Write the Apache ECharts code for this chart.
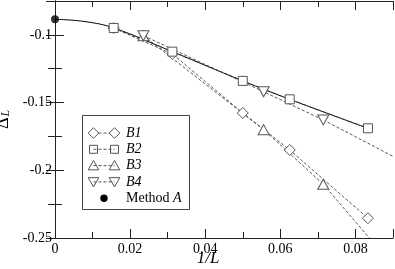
<!DOCTYPE html>
<html><head><meta charset="utf-8">
<script src="https://cdn.jsdelivr.net/npm/echarts@6/dist/echarts.min.js"></script>
<style>html,body{margin:0;padding:0;background:#fff}#c{width:395px;height:269px}</style>
</head><body><div id="c"></div>
<script>
// x values = 1/L
var xB12 = [1/64, 1/32, 1/20, 1/16, 1/12];
var yB1 = [-0.0950, -0.1141, -0.1577, -0.1850, -0.2354];
var yB2 = [-0.0949, -0.1124, -0.1340, -0.1476, -0.1690];
var xB34 = [1/42.5, 1/18, 1/14];
var yB3 = [-0.1006, -0.1700, -0.2103];
var yB4 = [-0.1006, -0.1420, -0.1628];
var methodA = [[0, -0.0885]];
// fitted / extrapolated curves
var fitB2 = [[0, -0.0885], [0.008, -0.0902], [1/64, -0.0949], [1/32, -0.1124], [1/20, -0.1340], [1/16, -0.1476], [1/12, -0.1690]];
var extB3 = [[1/14, -0.2103], [0.0837, -0.2500]];
var extB4 = [[1/14, -0.1628], [0.0900, -0.1897]];
var xTicks = {min: 0, max: 0.09, interval: 0.02};
var yTicks = {min: -0.25, max: -0.075, interval: 0.05};
var legendNames = ['B1', 'B2', 'B3', 'B4', 'Method A'];

function zip(xs, ys) { return xs.map(function (x, i) { return [x, ys[i]]; }); }

var FAM = 'Liberation Serif';
var FONT = '"Liberation Serif", serif';
var MK = '#555';
var DASH = {color: '#444', width: 0.9, type: [3, 2]};

function mkSeries(name, data, symbol, size, rot) {
  return {
    name: name, type: 'line', data: data, symbol: symbol, symbolSize: size, symbolRotate: rot || 0,
    showSymbol: true, clip: false, z: 3,
    lineStyle: DASH,
    itemStyle: {color: '#fff', borderColor: MK, borderWidth: 1}
  };
}

var chart = echarts.init(document.getElementById('c'), null, {renderer: 'canvas'});

var axisLine = {show: true, lineStyle: {color: '#222', width: 1}};
function xAx(pos, labels) {
  return {
    type: 'value', position: pos, min: xTicks.min, max: xTicks.max, interval: xTicks.interval,
    axisLine: axisLine,
    axisTick: {show: true, inside: true, length: 9, lineStyle: {color: '#222'}},
    minorTick: {show: true, splitNumber: 2, length: 6, lineStyle: {color: '#222'}},
    splitLine: {show: false}, minorSplitLine: {show: false},
    axisLabel: {show: labels, showMaxLabel: false, color: '#000', fontFamily: FAM, fontSize: 14, margin: 4,
      formatter: function (v) { return String(+v.toFixed(3)); }}
  };
}
function yAx(pos, labels) {
  var a = {
    type: 'value', position: pos, min: yTicks.min, max: yTicks.max, interval: yTicks.interval,
    axisLine: axisLine,
    axisTick: {show: true, inside: true, length: 9, lineStyle: {color: '#222'}},
    minorTick: {show: true, splitNumber: 2, length: 7, lineStyle: {color: '#222'}},
    splitLine: {show: false}, minorSplitLine: {show: false},
    axisLabel: {show: labels, showMaxLabel: false, color: '#000', fontFamily: FAM, fontSize: 14, margin: 3,
      formatter: function (v) { return String(+v.toFixed(3)); }}
  };
  if (labels) {
    a.name = '{d|Δ}{s|L}';
    a.nameLocation = 'middle';
    a.nameRotate = 90;
    a.nameGap = 37;
    a.nameTextStyle = {rich: {
      d: {fontFamily: FAM, fontSize: 18, color: '#000', lineHeight: 18, verticalAlign: 'middle'},
      s: {fontFamily: FAM, fontStyle: 'italic', fontSize: 12, color: '#000', lineHeight: 12, verticalAlign: 'bottom', padding: [0, 0, 0, 1]}
    }};
  }
  return a;
}

// legend drawn as graphic
var lg = [];
var LX = 82, LY = 115, LW = 107, LH = 94;
lg.push({type: 'rect', shape: {x: LX + 0.5, y: LY + 0.5, width: LW, height: LH},
  style: {fill: '#fff', stroke: '#444', lineWidth: 1}, z: 10});
function diamond(cx, cy, r) { return {type: 'polygon', shape: {points: [[cx - r, cy], [cx, cy - r], [cx + r, cy], [cx, cy + r]]}, style: {fill: '#fff', stroke: MK, lineWidth: 1}, z: 12}; }
function square(cx, cy, r) { return {type: 'rect', shape: {x: cx - r, y: cy - r, width: 2 * r, height: 2 * r}, style: {fill: 'none', stroke: MK, lineWidth: 1}, z: 12}; }
function tri(cx, cy, r, down) {
  var s = down ? -1 : 1;
  return {type: 'polygon', shape: {points: [[cx - r, cy + s * r * 0.8], [cx, cy - s * r * 0.95], [cx + r, cy + s * r * 0.8]]}, style: {fill: 'none', stroke: MK, lineWidth: 1}, z: 12};
}
var rowY0 = 133, rowDY = 16.3, s1 = 93.5, s2 = 114.5, tx = 126;
var makers = [
  function (x, y) { return diamond(x, y, 5.3); },
  function (x, y) { return square(x, y, 4); },
  function (x, y) { return tri(x, y, 5.3, false); },
  function (x, y) { return tri(x, y, 5.3, true); }
];
for (var i = 0; i < 4; i++) {
  var yy = rowY0 + i * rowDY;
  lg.push({type: 'line', shape: {x1: s1, y1: yy, x2: s2, y2: yy}, style: {stroke: '#444', lineWidth: 0.9, lineDash: [3, 2]}, z: 11});
  lg.push(makers[i](s1, yy));
  lg.push(makers[i](s2, yy));
  lg.push({type: 'text', x: tx, y: yy, style: {text: legendNames[i], font: 'italic 14px ' + FONT, fill: '#000', textVerticalAlign: 'middle'}, z: 12});
}
var yA = rowY0 + 4 * rowDY;
lg.push({type: 'circle', shape: {cx: 104, cy: yA, r: 3.7}, style: {fill: '#000'}, z: 12});
lg.push({type: 'text', x: tx, y: yA, style: {rich: {a: {font: '14px ' + FONT, fill: '#000'}, b: {font: 'italic 14px ' + FONT, fill: '#000'}}, text: '{a|Method }{b|A}', textVerticalAlign: 'middle'}, z: 12});

// x axis title
lg.push({type: 'text', x: 208, y: 259, style: {text: '1/L', font: 'italic 17px ' + FONT, fill: '#000', textAlign: 'center', textVerticalAlign: 'middle'}});

chart.setOption({
  animation: false,
  backgroundColor: '#fff',
  grid: {left: 55, right: 2, top: 1, bottom: 31, containLabel: false, outerBoundsMode: 'none'},
  xAxis: [xAx('bottom', true), xAx('top', false)],
  yAxis: [yAx('left', true), yAx('right', false)],
  series: [
    {name: 'B2 fit', type: 'line', data: fitB2, smooth: 0.4, showSymbol: false, symbol: 'none', clip: false, z: 2,
      lineStyle: {color: '#000', width: 1}},
    {name: 'B3 ext', type: 'line', data: extB3, showSymbol: false, symbol: 'none', z: 2, lineStyle: DASH},
    {name: 'B4 ext', type: 'line', data: extB4, showSymbol: false, symbol: 'none', z: 2, lineStyle: DASH},
    mkSeries('B1', zip(xB12, yB1), 'diamond', [11, 11]),
    mkSeries('B2', zip(xB12, yB2), 'rect', [9, 9]),
    mkSeries('B3', zip(xB34, yB3), 'triangle', [11, 10]),
    mkSeries('B4', zip(xB34, yB4), 'triangle', [11, 10], 180),
    {name: 'Method A', type: 'scatter', data: methodA, symbol: 'circle', symbolSize: 8, clip: false, z: 5,
      itemStyle: {color: '#000'}}
  ],
  graphic: lg
});
</script></body></html>
